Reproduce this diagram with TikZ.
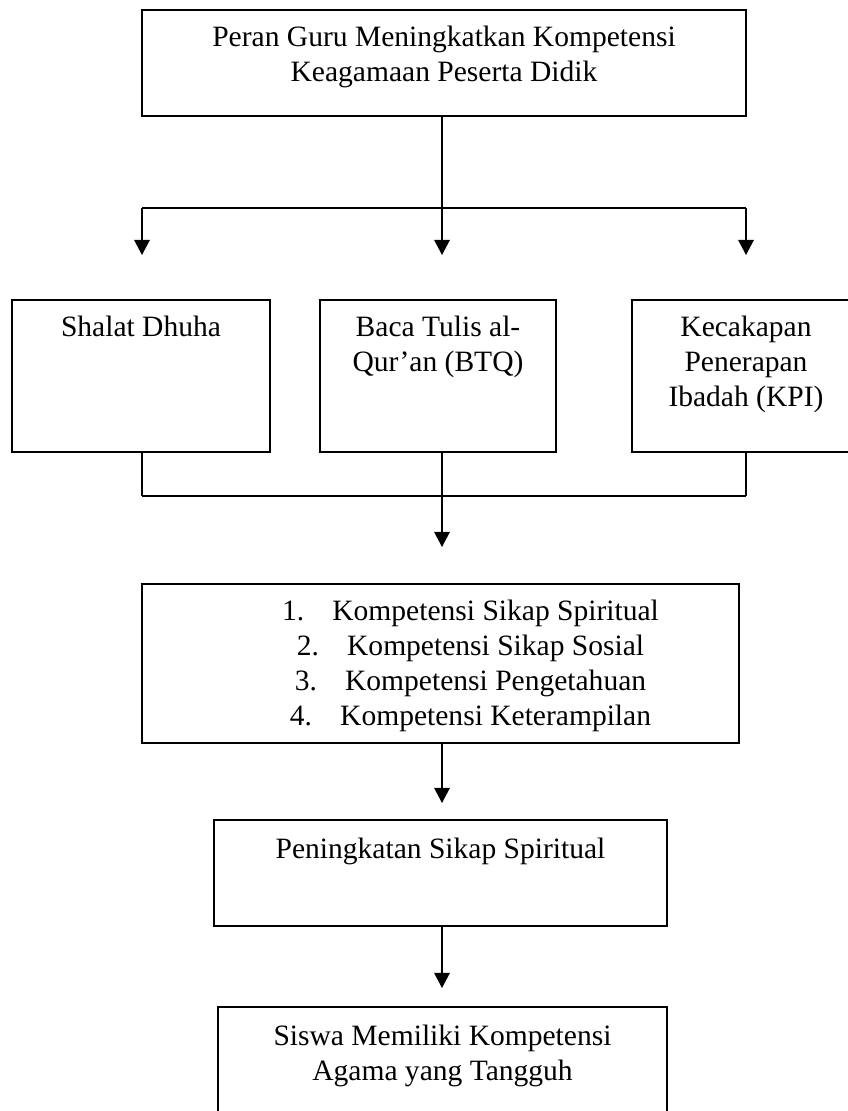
\documentclass[tikz,border=0pt]{standalone}
\usepackage{fontspec}
\setmainfont{Liberation Serif}
\usetikzlibrary{positioning,arrows.meta}

\tikzset{
  kotak/.style={draw, line width=1.1pt, inner sep=0pt},
  tulisan/.style={align=center, inner sep=0pt, font=\fontsize{21}{24.9}\selectfont},
  garis/.style={line width=1pt},
  panah/.style={line width=1pt, -{Triangle[length=10.7pt,width=11pt]}}
}

\begin{document}
\begin{tikzpicture}[x=0.025cm, y=-0.025cm]

\useasboundingbox (0,0) rectangle (848,1111);

% Kotak atas
\node[kotak, minimum width=15.1cm, minimum height=2.65cm] (peran) at (444,63) {};
\node[tulisan, below=0.42cm of peran.north] (peranT) {Peran Guru Meningkatkan Kompetensi\\Keagamaan Peserta Didik};

% Cabang ke tiga kegiatan
\coordinate (cabang) at (442,208);
\coordinate (cabangKiri) at (142,208);
\coordinate (cabangKanan) at (746,208);
\coordinate (ujungKiri) at (142,255);
\coordinate (ujungTengah) at (442,255);
\coordinate (ujungKanan) at (746,255);

\draw[garis] (peran.south -| cabang) -- (cabang);
\draw[garis] (cabangKiri) -- (cabangKanan);
\draw[panah] (cabangKiri) -- (ujungKiri);
\draw[panah] (cabang) -- (ujungTengah);
\draw[panah] (cabangKanan) -- (ujungKanan);

% Tiga kegiatan
\node[kotak, minimum width=6.45cm, minimum height=3.8cm] (shalat) at (141,376) {};
\node[kotak, minimum width=5.9cm, minimum height=3.8cm] (btq) at (438,376) {};
\node[kotak, minimum width=5.7cm, minimum height=3.8cm] (kpi) at (746,376) {};
\node[tulisan, below=0.42cm of shalat.north] (shalatT) {Shalat Dhuha};
\node[tulisan, below=0.42cm of btq.north] (btqT) {Baca Tulis al-\\Qur’an (BTQ)};
\node[tulisan, below=0.42cm of kpi.north] (kpiT) {Kecakapan\\Penerapan\\Ibadah (KPI)};

% Gabungan
\coordinate (gabung) at (442,496);
\coordinate (gabungKiri) at (142,496);
\coordinate (gabungKanan) at (746,496);
\coordinate (ujungGabung) at (442,547);

\draw[garis] (shalat.south -| gabungKiri) -- (gabungKiri);
\draw[garis] (btq.south -| gabung) -- (gabung);
\draw[garis] (kpi.south -| gabungKanan) -- (gabungKanan);
\draw[garis] (gabungKiri) -- (gabungKanan);
\draw[panah] (gabung) -- (ujungGabung);

% Kompetensi
\node[kotak, minimum width=14.925cm, minimum height=3.975cm] (kompetensi) at (440.5,663.5) {};
\node[tulisan, below=0.42cm of kompetensi.north, xshift=0.75cm] (kompetensiT)
  {1.\hspace{20pt}Kompetensi Sikap Spiritual\\
   2.\hspace{20pt}Kompetensi Sikap Sosial\\
   3.\hspace{20pt}Kompetensi Pengetahuan\\
   4.\hspace{20pt}Kompetensi Keterampilan};

\coordinate (ujungKomp) at (442,803);
\draw[panah] (kompetensi.south -| ujungKomp) -- (ujungKomp);

% Peningkatan
\node[kotak, minimum width=11.325cm, minimum height=2.65cm] (peningkatan) at (440.5,873) {};
\node[tulisan, below=0.45cm of peningkatan.north] (peningkatanT) {Peningkatan Sikap Spiritual};

\coordinate (ujungPen) at (442,988);
\draw[panah] (peningkatan.south -| ujungPen) -- (ujungPen);

% Hasil
\node[kotak, minimum width=11.225cm, minimum height=2.95cm] (hasil) at (442.5,1066) {};
\node[tulisan, below=0.45cm of hasil.north] (hasilT) {Siswa Memiliki Kompetensi\\Agama yang Tangguh};

\end{tikzpicture}
\end{document}
